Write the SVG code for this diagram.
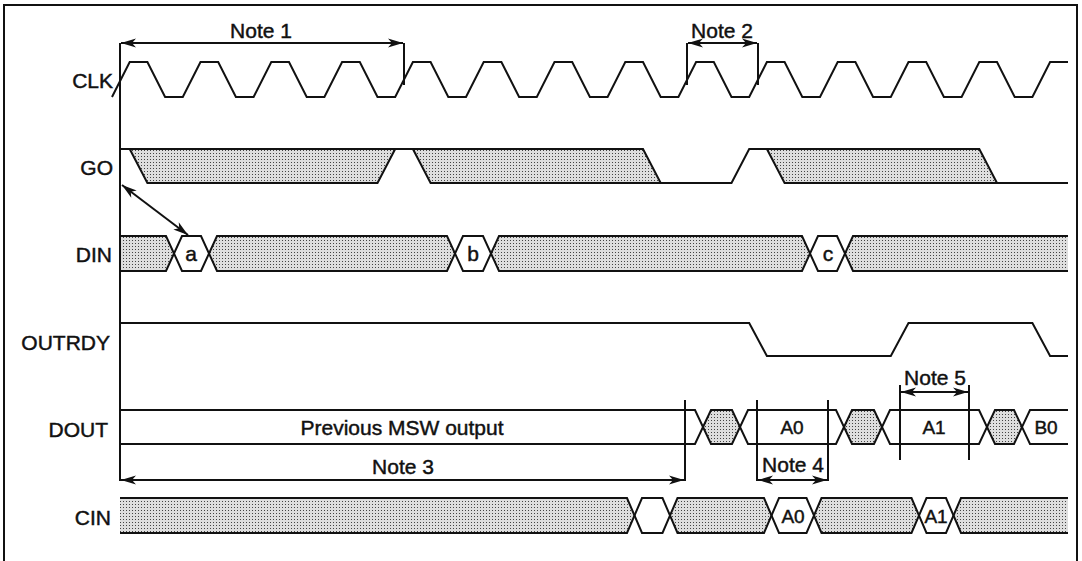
<svg xmlns="http://www.w3.org/2000/svg" width="1082" height="561" viewBox="0 0 1082 561">
<style>
.w{fill:none;stroke:#111;stroke-width:2;stroke-linejoin:miter}
.sh{fill:url(#dots);stroke:none}
.t{font-family:"Liberation Sans",Arial,Helvetica,sans-serif;font-size:21px;fill:#111;stroke:#111;stroke-width:0.45}
.e{text-anchor:end}
.m{text-anchor:middle}
.s{font-size:19px}
.c{fill:none;stroke:#111;stroke-width:2}
.a{marker-start:url(#ah);marker-end:url(#ah)}
</style>
<defs>
<pattern id="dots" width="3" height="3" patternUnits="userSpaceOnUse">
<rect width="3" height="3" fill="#dedede"/>
<rect x="0" y="0" width="1" height="1" fill="#444"/>
</pattern>
<marker id="ah" viewBox="-16 -6 17 12" refX="0" refY="0" markerWidth="17" markerHeight="12" markerUnits="userSpaceOnUse" orient="auto-start-reverse">
<path d="M0,0 L-15,-4.5 L-11,0 L-15,4.5 Z" fill="#111"/>
</marker>
</defs>
<rect width="1082" height="561" fill="#fff"/>
<g id="frame"><path class="w" d="M4,562 V5 H1077 V562"/></g>

<g id="labels">
<text class="t e" x="113" y="88">CLK</text>
<text class="t e" x="113" y="175">GO</text>
<text class="t e" x="112" y="262">DIN</text>
<text class="t e" x="110" y="350">OUTRDY</text>
<text class="t e" x="108" y="437">DOUT</text>
<text class="t e" x="111" y="525">CIN</text>
</g>

<g id="clk">
<path class="w" d="M112,97 L129.7,62 H147.4 L165.1,97 H182.8 L200.5,62 H218.2 L235.9,97 H253.6 L271.3,62 H289 L306.7,97 H324.4 L342.1,62 H359.8 L377.5,97 H395.2 L412.9,62 H430.6 L448.3,97 H466 L483.7,62 H501.4 L519.1,97 H536.8 L554.5,62 H572.2 L589.9,97 H607.6 L625.3,62 H643 L660.7,97 H678.4 L696.1,62 H713.8 L731.5,97 H749.2 L766.9,62 H784.6 L802.3,97 H820 L837.7,62 H855.4 L873.1,97 H890.8 L908.5,62 H926.2 L943.9,97 H961.6 L979.3,62 H997 L1014.7,97 H1032.4 L1050.1,62 H1068"/>
</g>

<g id="go">
<polygon class="sh" points="129.7,149 395.2,149 377.5,183 147.4,183"/>
<polygon class="sh" points="412.9,149 643,149 660.7,183 430.6,183"/>
<polygon class="sh" points="766.9,149 979.3,149 997,183 784.6,183"/>
<path class="w" d="M120,149 H643 L660.7,183 H731.5 L749.2,149 H979.3 L997,183 H1068"/>
<path class="w" d="M129.7,149 L147.4,183 H377.5 L395.2,149"/>
<path class="w" d="M412.9,149 L430.6,183 H660.7"/>
<path class="w" d="M766.9,149 L784.6,183 H997"/>
</g>

<g id="din">
<polygon class="sh" points="120,236 166,236 174,253.5 166,271 120,271"/>
<polygon class="sh" points="209,253.5 217,236 447,236 455,253.5 447,271 217,271"/>
<polygon class="sh" points="491,253.5 499,236 802,236 810,253.5 802,271 499,271"/>
<polygon class="sh" points="845,253.5 853,236 1068,236 1068,271 853,271"/>
<path class="w" d="M120,236 H166 L182,271 H201 L217,236 H447 L463,271 H483 L499,236 H802 L818,271 H837 L853,236 H1068"/>
<path class="w" d="M120,271 H166 L182,236 H201 L217,271 H447 L463,236 H483 L499,271 H802 L818,236 H837 L853,271 H1068"/>
<text class="t m" x="191" y="261">a</text>
<text class="t m" x="473" y="261">b</text>
<text class="t m" x="828" y="261">c</text>
</g>

<g id="outrdy">
<path class="w" d="M120,323 H749.2 L766.9,356 H890.8 L908.5,323 H1032.4 L1050.1,356 H1068"/>
</g>

<g id="dout">
<polygon class="sh" points="703,427 711,410 732,410 740,427 732,444 711,444"/>
<polygon class="sh" points="844,427 852,410 874,410 882,427 874,444 852,444"/>
<polygon class="sh" points="987,427 995,410 1014,410 1022,427 1014,444 995,444"/>
<path class="w" d="M120,410 H695 L711,444 H732 L748,410 H836 L852,444 H874 L890,410 H979 L995,444 H1014 L1030,410 H1068"/>
<path class="w" d="M120,444 H695 L711,410 H732 L748,444 H836 L852,410 H874 L890,444 H979 L995,410 H1014 L1030,444 H1068"/>
<text class="t m" x="402" y="435">Previous MSW output</text>
<text class="t m s" x="792" y="434">A0</text>
<text class="t m s" x="934" y="434">A1</text>
<text class="t m s" x="1046" y="434">B0</text>
</g>

<g id="cin">
<polygon class="sh" points="120,498 627,498 634.5,515.5 627,533 120,533"/>
<polygon class="sh" points="670,515.5 677.5,498 764,498 771.5,515.5 764,533 677.5,533"/>
<polygon class="sh" points="814,515.5 821.5,498 911.5,498 919,515.5 911.5,533 821.5,533"/>
<polygon class="sh" points="953.5,515.5 961,498 1068,498 1068,533 961,533"/>
<path class="w" d="M120,498 H627 L642,533 H662.5 L677.5,498 H764 L779,533 H806.5 L821.5,498 H911.5 L926.5,533 H946 L961,498 H1068"/>
<path class="w" d="M120,533 H627 L642,498 H662.5 L677.5,533 H764 L779,498 H806.5 L821.5,533 H911.5 L926.5,498 H946 L961,533 H1068"/>
<text class="t m s" x="793" y="523">A0</text>
<text class="t m s" x="936" y="523">A1</text>
</g>

<g id="notes">
<text class="t m" x="261" y="38">Note 1</text>
<text class="t m" x="722" y="38">Note 2</text>
<text class="t m" x="403" y="474">Note 3</text>
<text class="t m" x="793" y="472">Note 4</text>
<text class="t m" x="935" y="385">Note 5</text>
</g>

<g id="connectors">
<line class="c" x1="120" y1="43" x2="120" y2="481"/>
<line class="c" x1="404" y1="43" x2="404" y2="85"/>
<line class="c" x1="687" y1="43" x2="687" y2="85"/>
<line class="c" x1="758" y1="43" x2="758" y2="85"/>
<line class="c" x1="685" y1="400" x2="685" y2="481"/>
<line class="c" x1="757" y1="400" x2="757" y2="481"/>
<line class="c" x1="828" y1="400" x2="828" y2="481"/>
<line class="c" x1="900" y1="385" x2="900" y2="460"/>
<line class="c" x1="969" y1="385" x2="969" y2="460"/>
<line class="c a" x1="121" y1="43" x2="403" y2="43"/>
<line class="c a" x1="688" y1="43" x2="757" y2="43"/>
<line class="c a" x1="121" y1="480" x2="684" y2="480"/>
<line class="c a" x1="758" y1="480" x2="827" y2="480"/>
<line class="c a" x1="901" y1="392" x2="968" y2="392"/>
<line class="c a" x1="122" y1="185" x2="188" y2="235"/>
</g>
</svg>
